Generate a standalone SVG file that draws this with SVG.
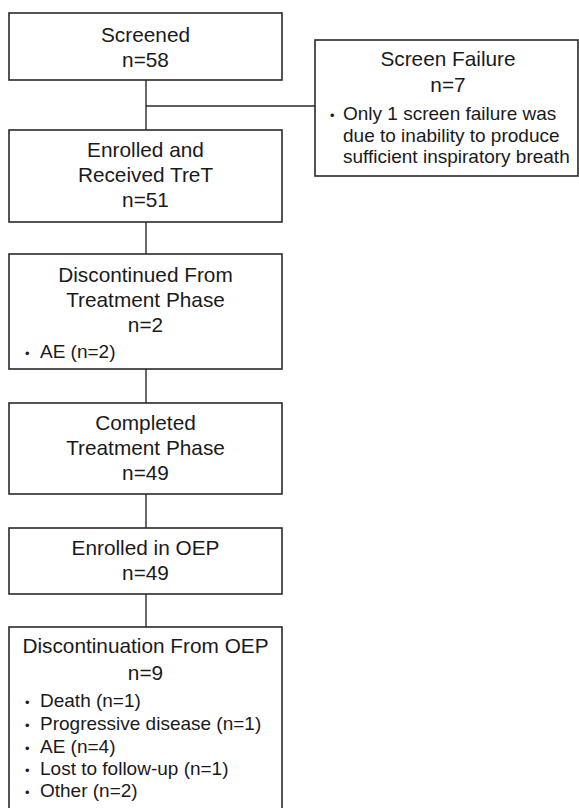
<svg xmlns="http://www.w3.org/2000/svg" width="579" height="808" viewBox="0 0 579 808">
<style>
.box{fill:#fff;stroke:#2a2a2a;stroke-width:1.6}
.t{font-family:"Liberation Sans",Arial,sans-serif;font-size:20.8px;fill:#1a1a1a;text-anchor:middle}
.b{font-family:"Liberation Sans",Arial,sans-serif;font-size:19px;fill:#1a1a1a}
.dot{font-size:13px}
.c{fill:none;stroke:#2a2a2a;stroke-width:1.4}
</style>
<rect width="579" height="808" fill="#fff"/>
<g id="connectors">
<line class="c" x1="146" y1="80" x2="146" y2="130"/>
<line class="c" x1="146" y1="106" x2="315" y2="106"/>
<line class="c" x1="146" y1="222" x2="146" y2="254"/>
<line class="c" x1="146" y1="369" x2="146" y2="403"/>
<line class="c" x1="146" y1="494" x2="146" y2="528"/>
<line class="c" x1="146" y1="594" x2="146" y2="627"/>
</g>
<g id="screened">
<rect class="box" x="9" y="13" width="273" height="67"/>
<text class="t" x="145.5" y="42">Screened</text>
<text class="t" x="145.5" y="67">n=58</text>
</g>
<g id="screen-failure">
<rect class="box" x="315" y="40" width="263" height="136"/>
<text class="t" x="448" y="66">Screen Failure</text>
<text class="t" x="448" y="92">n=7</text>
<text class="b" x="330" y="120"><tspan class="dot">•</tspan></text>
<text class="b" x="343" y="120">Only 1 screen failure was</text>
<text class="b" x="343" y="141.7">due to inability to produce</text>
<text class="b" x="343" y="163.3">sufficient inspiratory breath</text>
</g>
<g id="enrolled">
<rect class="box" x="9" y="130" width="273" height="92"/>
<text class="t" x="145.5" y="157">Enrolled and</text>
<text class="t" x="145.5" y="182">Received TreT</text>
<text class="t" x="145.5" y="207">n=51</text>
</g>
<g id="discontinued">
<rect class="box" x="9" y="254" width="273" height="115"/>
<text class="t" x="145.5" y="282">Discontinued From</text>
<text class="t" x="145.5" y="307">Treatment Phase</text>
<text class="t" x="145.5" y="332">n=2</text>
<text class="b" x="25" y="358"><tspan class="dot">•</tspan></text>
<text class="b" x="40" y="358">AE (n=2)</text>
</g>
<g id="completed">
<rect class="box" x="9" y="403" width="273" height="91"/>
<text class="t" x="145.5" y="430">Completed</text>
<text class="t" x="145.5" y="455">Treatment Phase</text>
<text class="t" x="145.5" y="480">n=49</text>
</g>
<g id="oep">
<rect class="box" x="9" y="528" width="273" height="66"/>
<text class="t" x="145.5" y="555">Enrolled in OEP</text>
<text class="t" x="145.5" y="580">n=49</text>
</g>
<g id="discontinuation-oep">
<rect class="box" x="9" y="627" width="273" height="190"/>
<text class="t" x="145.5" y="653">Discontinuation From OEP</text>
<text class="t" x="145.5" y="680">n=9</text>
<text class="b" x="25" y="707"><tspan class="dot">•</tspan></text>
<text class="b" x="40" y="707">Death (n=1)</text>
<text class="b" x="25" y="730"><tspan class="dot">•</tspan></text>
<text class="b" x="40" y="730">Progressive disease (n=1)</text>
<text class="b" x="25" y="753"><tspan class="dot">•</tspan></text>
<text class="b" x="40" y="753">AE (n=4)</text>
<text class="b" x="25" y="775"><tspan class="dot">•</tspan></text>
<text class="b" x="40" y="775">Lost to follow-up (n=1)</text>
<text class="b" x="25" y="797"><tspan class="dot">•</tspan></text>
<text class="b" x="40" y="797">Other (n=2)</text>
</g>
</svg>
